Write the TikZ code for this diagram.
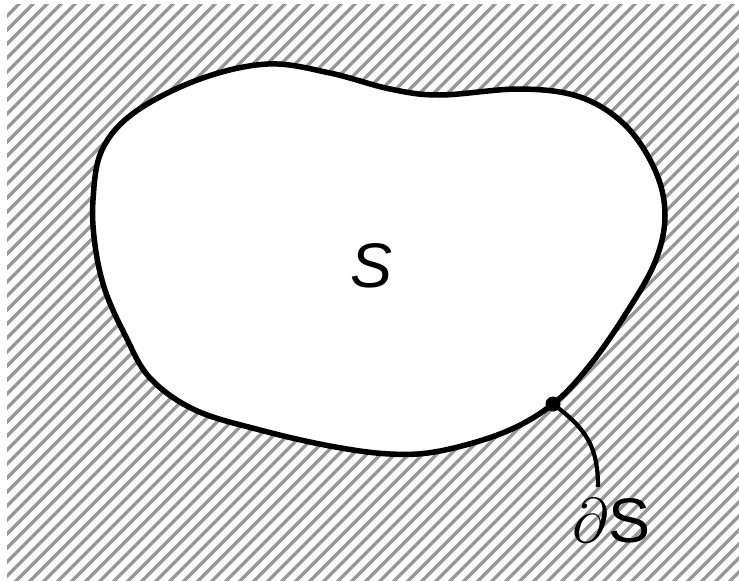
\documentclass[tikz,border=0pt]{standalone}
\usepackage{fontspec}
\newfontfamily\lab{Liberation Sans}
\definecolor{hatchgray}{HTML}{999999}
\tikzset{
  hatchline/.style={line width=3.3pt, color=hatchgray},
  outline/.style={line width=5.5pt, black, fill=white, line join=round},
  leader/.style={line width=4.2pt, black, line cap=butt},
  bigtext/.style={font=\lab\fontsize{63}{63}\selectfont, inner sep=0pt, anchor=base},
}
\begin{document}
\begin{tikzpicture}[x=1pt, y=-1pt]
\useasboundingbox (0,0) rectangle (739,581);
\fill[white] (0,0) rectangle (739,581);
\begin{scope}
  \clip (7,4) rectangle (739,581);
  \foreach \c in {0,14,...,1344} {
    \draw[hatchline] (\c,-5) -- (\c-600,595);
  }
\end{scope}
\draw[outline] plot[smooth cycle, tension=0.6] coordinates {
  (93,200) (102,150) (135,112) (200,79) (268,64) (330,73) (390,89) (440,95)
  (520,89) (580,97) (625,125) (655,170) (665,215) (655,262) (625,315)
  (590,365) (553,404) (505,432) (440,451) (390,454) (330,446) (260,430)
  (195,410) (150,378) (125,335) (105,290) (95,245)
};
\node[circle, fill=black, minimum size=15pt, inner sep=0pt] (dot) at (553,404) {};
\coordinate (tail) at (598,487);
\draw[leader] (dot.center) .. controls (585,428) and (598,445) .. (tail);
\node[bigtext] (S) at (372,287) {\itshape S};
\node[bigtext, anchor=base west] (dS) at (572,542) {\scalebox{3.04}{\fontsize{20.74}{21}\selectfont$\partial$}S};
\end{tikzpicture}
\end{document}
